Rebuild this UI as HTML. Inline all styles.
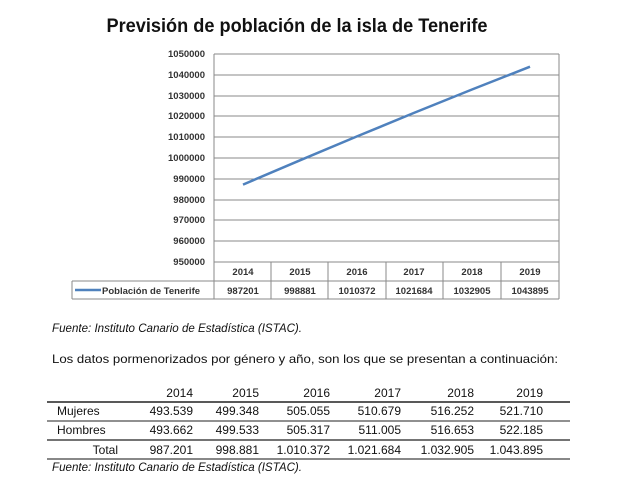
<!DOCTYPE html>
<html><head><meta charset="utf-8"><style>
html,body{margin:0;padding:0;background:#fff;width:627px;height:503px;overflow:hidden}
svg{display:block;font-family:"Liberation Sans",sans-serif}
</style></head><body>
<svg width="627" height="503" viewBox="0 0 627 503">
<text x="297" y="32" text-anchor="middle" font-size="19" font-weight="bold" fill="#111" textLength="381" lengthAdjust="spacingAndGlyphs">Previsión de población de la isla de Tenerife</text>
<g stroke="#8a8a8a" stroke-width="1">
<line x1="214" y1="54" x2="559" y2="54"/><line x1="214" y1="75" x2="559" y2="75"/><line x1="214" y1="96" x2="559" y2="96"/><line x1="214" y1="116" x2="559" y2="116"/><line x1="214" y1="137" x2="559" y2="137"/><line x1="214" y1="158" x2="559" y2="158"/><line x1="214" y1="179" x2="559" y2="179"/><line x1="214" y1="200" x2="559" y2="200"/><line x1="214" y1="220" x2="559" y2="220"/><line x1="214" y1="241" x2="559" y2="241"/><line x1="214" y1="262" x2="559" y2="262"/>
<line x1="214" y1="54" x2="214" y2="299"/><line x1="559" y1="54" x2="559" y2="299"/>
<line x1="271" y1="262" x2="271" y2="299"/><line x1="328" y1="262" x2="328" y2="299"/><line x1="386" y1="262" x2="386" y2="299"/><line x1="443" y1="262" x2="443" y2="299"/><line x1="501" y1="262" x2="501" y2="299"/>
<line x1="72" y1="281" x2="559" y2="281"/><line x1="72" y1="299" x2="559" y2="299"/><line x1="72" y1="281" x2="72" y2="299"/>
</g>
<g font-size="9.5" font-weight="bold" fill="#333" text-anchor="end">
<text x="205" y="57">1050000</text><text x="205" y="78">1040000</text><text x="205" y="99">1030000</text><text x="205" y="119">1020000</text><text x="205" y="140">1010000</text><text x="205" y="161">1000000</text><text x="205" y="182">990000</text><text x="205" y="203">980000</text><text x="205" y="223">970000</text><text x="205" y="244">960000</text><text x="205" y="265">950000</text>
</g>
<g font-size="9.5" font-weight="bold" fill="#333" text-anchor="middle">
<text x="243" y="275">2014</text><text x="300" y="275">2015</text><text x="357" y="275">2016</text><text x="414" y="275">2017</text><text x="472" y="275">2018</text><text x="530" y="275">2019</text>
<text x="243" y="294">987201</text><text x="300" y="294">998881</text><text x="357" y="294">1010372</text><text x="414" y="294">1021684</text><text x="472" y="294">1032905</text><text x="530" y="294">1043895</text>
</g>
<line x1="75" y1="290" x2="101" y2="290" stroke="#4f81bd" stroke-width="2.5"/>
<text x="102" y="294" font-size="9.5" font-weight="bold" fill="#333">Población de Tenerife</text>
<polyline fill="none" stroke="#4f81bd" stroke-width="2.5" points="243,184.6 300,160.3 357,136.4 414,112.9 472,89.5 530,66.7"/>
<text x="52" y="332" font-size="12" font-style="italic" fill="#111" textLength="250" lengthAdjust="spacingAndGlyphs">Fuente: Instituto Canario de Estadística (ISTAC).</text>
<text x="52" y="363" font-size="12" fill="#111" textLength="506" lengthAdjust="spacingAndGlyphs">Los datos pormenorizados por género y año, son los que se presentan a continuación:</text>
<g stroke="#222"><line x1="47" y1="402" x2="570" y2="402" stroke-width="1.5"/><line x1="47" y1="421" x2="570" y2="421"/><line x1="47" y1="440" x2="570" y2="440" stroke-width="1.2"/></g>
<line x1="47" y1="459" x2="570" y2="459" stroke="#888" stroke-width="2"/>
<g font-size="12" fill="#111" text-anchor="end">
<text x="193" y="397">2014</text><text x="259" y="397">2015</text><text x="330" y="397">2016</text><text x="401" y="397">2017</text><text x="474" y="397">2018</text><text x="543" y="397">2019</text>
<text x="193" y="415">493.539</text><text x="259" y="415">499.348</text><text x="330" y="415">505.055</text><text x="401" y="415">510.679</text><text x="474" y="415">516.252</text><text x="543" y="415">521.710</text>
<text x="193" y="434">493.662</text><text x="259" y="434">499.533</text><text x="330" y="434">505.317</text><text x="401" y="434">511.005</text><text x="474" y="434">516.653</text><text x="543" y="434">522.185</text>
<text x="118" y="454">Total</text>
<text x="193" y="454">987.201</text><text x="259" y="454">998.881</text><text x="330" y="454">1.010.372</text><text x="401" y="454">1.021.684</text><text x="474" y="454">1.032.905</text><text x="543" y="454">1.043.895</text>
</g>
<text x="57" y="415" font-size="12" fill="#111">Mujeres</text>
<text x="57" y="434" font-size="12" fill="#111">Hombres</text>
<text x="52" y="471" font-size="12" font-style="italic" fill="#111" textLength="250" lengthAdjust="spacingAndGlyphs">Fuente: Instituto Canario de Estadística (ISTAC).</text>
</svg>
</body></html>
